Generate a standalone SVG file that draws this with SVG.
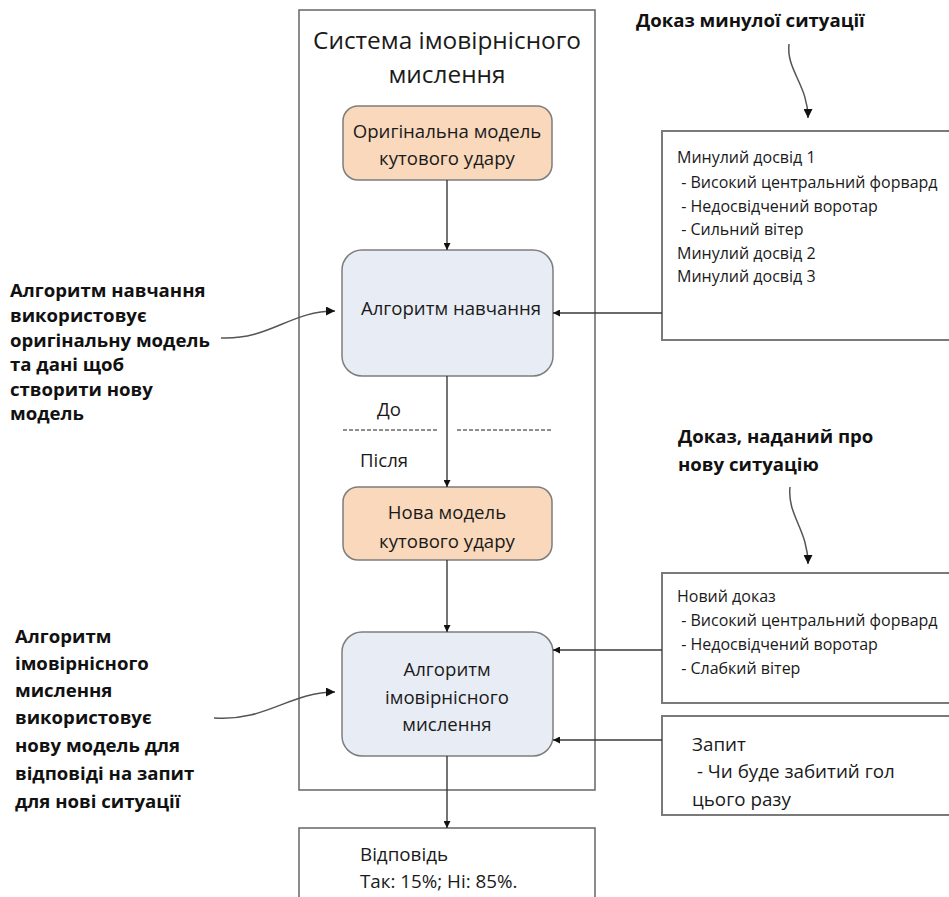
<svg xmlns="http://www.w3.org/2000/svg" width="949" height="897" viewBox="0 0 949 897">
  <style>
    text { font-family: "Open Sans", "Noto Sans", "DejaVu Sans", sans-serif; fill: #1a1a1a; white-space: pre; }
    .title { font-size: 24.4px; text-anchor: middle; }
    .node { font-size: 18.6px; text-anchor: middle; }
    .plain { font-size: 18.6px; }
    .list { font-size: 16px; }
    .query { font-size: 18.8px; }
    .note { font-size: 18.6px; font-weight: bold; fill: #111; }
    .frame { fill: #fff; stroke: #6f6f6f; stroke-width: 1.6; }
    .peach { fill: #f9d8bb; stroke: #7d7d7d; stroke-width: 1.5; }
    .blue { fill: #e8ecf5; stroke: #7d7d7d; stroke-width: 1.5; }
    .side { fill: #fff; stroke: #7a7a7a; stroke-width: 2; }
    .link { fill: none; stroke: #3a3a3a; stroke-width: 1.4; }
    .curve { fill: none; stroke: #555; stroke-width: 1.5; }
    .dash { fill: none; stroke: #6a6a6a; stroke-width: 1.6; stroke-dasharray: 4 2; }
  </style>
  <defs>
    <marker id="arrow" viewBox="0 0 10 10" refX="10" refY="5" markerWidth="7" markerHeight="7" markerUnits="userSpaceOnUse" orient="auto">
      <path d="M0,0 L10,5 L0,10 z" fill="#111"/>
    </marker>
    <marker id="arrowBig" viewBox="0 0 10 10" refX="10" refY="5" markerWidth="9" markerHeight="9" markerUnits="userSpaceOnUse" orient="auto">
      <path d="M0,0 L10,5 L0,10 z" fill="#111"/>
    </marker>
  </defs>

  <rect width="949" height="897" fill="#fff"/>

  <!-- outer system frame -->
  <g id="system">
    <rect class="frame" x="299" y="10" width="296" height="780"/>
    <text class="title" x="447" y="49">Система імовірнісного</text>
    <text class="title" x="447" y="83">мислення</text>
  </g>

  <!-- answer box, cut by the lower edge -->
  <g id="answer">
    <rect class="frame" x="299" y="828" width="296" height="90"/>
    <text class="query" x="360" y="861">Відповідь</text>
    <text class="query" x="360" y="888">Так: 15%; Ні: 85%.</text>
  </g>

  <g id="original-model">
    <rect class="peach" x="343" y="106" width="209" height="74" rx="15"/>
    <text class="node" x="447" y="138">Оригінальна модель</text>
    <text class="node" x="447" y="165">кутового удару</text>
  </g>

  <g id="learning">
    <rect class="blue" x="342" y="250" width="211" height="126" rx="20"/>
    <text class="node" x="451" y="315">Алгоритм навчання</text>
  </g>

  <g id="before-after">
    <text class="plain" x="377" y="416">До</text>
    <line class="dash" x1="343" y1="430" x2="437" y2="430"/>
    <line class="dash" x1="457" y1="430" x2="552" y2="430"/>
    <text class="plain" x="360" y="467">Після</text>
  </g>

  <g id="new-model">
    <rect class="peach" x="343" y="487" width="209" height="73" rx="15"/>
    <text class="node" x="447" y="519">Нова модель</text>
    <text class="node" x="447" y="548">кутового удару</text>
  </g>

  <g id="inference">
    <rect class="blue" x="342" y="632" width="211" height="124" rx="20"/>
    <text class="node" x="447" y="676">Алгоритм</text>
    <text class="node" x="447" y="704">імовірнісного</text>
    <text class="node" x="447" y="731">мислення</text>
  </g>

  <g id="past-evidence">
    <rect class="side" x="662" y="131" width="300" height="209"/>
    <text class="list" x="677" y="163">Минулий досвід 1</text>
    <text class="list" x="677" y="188"> - Високий центральний форвард</text>
    <text class="list" x="677" y="212"> - Недосвідчений воротар</text>
    <text class="list" x="677" y="235"> - Сильний вітер</text>
    <text class="list" x="677" y="259">Минулий досвід 2</text>
    <text class="list" x="677" y="282">Минулий досвід 3</text>
  </g>

  <g id="new-evidence">
    <rect class="side" x="662" y="573" width="300" height="130"/>
    <text class="list" x="677" y="602">Новий доказ</text>
    <text class="list" x="677" y="626"> - Високий центральний форвард</text>
    <text class="list" x="677" y="650"> - Недосвідчений воротар</text>
    <text class="list" x="677" y="674"> - Слабкий вітер</text>
  </g>

  <g id="query">
    <rect class="side" x="662" y="716" width="300" height="99"/>
    <text class="query" x="692" y="751">Запит</text>
    <text class="query" x="692" y="778"> - Чи буде забитий гол</text>
    <text class="query" x="692" y="806">цього разу</text>
  </g>

  <g id="note-past">
    <text class="note" x="636" y="27">Доказ минулої ситуації</text>
  </g>

  <g id="note-new">
    <text class="note" x="678" y="443">Доказ, наданий про</text>
    <text class="note" x="678" y="471">нову ситуацію</text>
  </g>

  <g id="note-learning">
    <text class="note" x="10" y="297">Алгоритм навчання</text>
    <text class="note" x="10" y="322">використовує</text>
    <text class="note" x="10" y="347">оригінальну модель</text>
    <text class="note" x="10" y="371">та дані щоб</text>
    <text class="note" x="10" y="396">створити нову</text>
    <text class="note" x="10" y="420">модель</text>
  </g>

  <g id="note-inference">
    <text class="note" x="15" y="643">Алгоритм</text>
    <text class="note" x="15" y="670">імовірнісного</text>
    <text class="note" x="15" y="697">мислення</text>
    <text class="note" x="15" y="724">використовує</text>
    <text class="note" x="15" y="752">нову модель для</text>
    <text class="note" x="15" y="780">відповіді на запит</text>
    <text class="note" x="15" y="808">для нові ситуації</text>
  </g>

  <!-- connectors -->
  <g id="connectors">
    <line class="link" x1="447" y1="180" x2="447" y2="250" marker-end="url(#arrow)"/>
    <line class="link" x1="447" y1="376" x2="447" y2="487" marker-end="url(#arrow)"/>
    <line class="link" x1="447" y1="560" x2="447" y2="632" marker-end="url(#arrow)"/>
    <line class="link" x1="447" y1="756" x2="447" y2="828" marker-end="url(#arrow)"/>
    <line class="link" x1="662" y1="313" x2="553" y2="313" marker-end="url(#arrow)"/>
    <line class="link" x1="662" y1="650" x2="553" y2="650" marker-end="url(#arrow)"/>
    <line class="link" x1="662" y1="740" x2="553" y2="740" marker-end="url(#arrow)"/>
    <path class="curve" d="M789,44 C786,70 808,85 808,118" marker-end="url(#arrowBig)"/>
    <path class="curve" d="M790,487 C787,515 808,530 808,564" marker-end="url(#arrowBig)"/>
    <path class="curve" d="M221,338 C270,340 290,311 335,311" marker-end="url(#arrowBig)"/>
    <path class="curve" d="M214,718 C265,722 290,692 335,692" marker-end="url(#arrowBig)"/>
  </g>
</svg>
